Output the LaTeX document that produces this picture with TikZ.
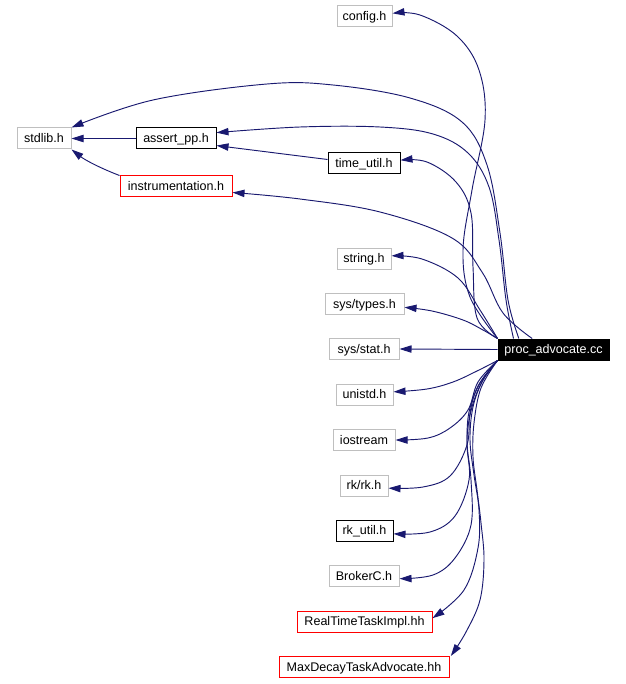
\documentclass[tikz,border=0pt]{standalone}
\usepackage{fontspec}
\setmainfont{Liberation Sans}
\usetikzlibrary{arrows.meta}
\definecolor{edgeblue}{RGB}{25,25,112}
\definecolor{boxgray}{RGB}{191,191,191}
\definecolor{boxred}{RGB}{255,0,0}
\begin{document}
\begin{tikzpicture}[x=0.75pt,y=-0.75pt,
  box/.style={draw, line width=0.75pt, minimum width=#1*0.75pt, minimum height=15.75pt,
    inner sep=0pt, text height=8.2pt, text depth=1.9pt,
    font=\fontsize{9.4pt}{11pt}\selectfont},
  gbox/.style={box=#1, draw=boxgray},
  kbox/.style={box=#1, draw=black},
  rbox/.style={box=#1, draw=boxred},
  edge/.style={draw=edgeblue, line width=0.7pt,
    -{Triangle[length=9pt,width=5.5pt]}, fill=none}]
\useasboundingbox (0,0) rectangle (625,684);
\fill[white] (0,0) rectangle (625,684);

% nodes
\node[gbox=55] (config) at (364.5,16) {config.h};
\node[gbox=54] (stdlib) at (44,138.5) {stdlib.h};
\node[kbox=80] (assert) at (176,138.5) {assert\_pp.h};
\node[rbox=112] (instr) at (176,186.5) {instrumentation.h};
\node[kbox=72] (timeu) at (364,163.5) {time\_util.h};
\node[gbox=54] (string) at (364,258.5) {string.h};
\node[gbox=79] (types) at (364.5,304) {sys/types.h};
\node[gbox=70] (stat) at (364,349) {sys/stat.h};
\node[box=111, draw=black, fill=black, text=white] (proc) at (553.5,349.5) {proc\_advocate.cc};
\node[gbox=57] (unistd) at (364.5,394.5) {unistd.h};
\node[gbox=62] (iostream) at (364,440) {iostream};
\node[gbox=48] (rkrk) at (364,485.5) {rk/rk.h};
\node[kbox=57] (rkutil) at (364.5,530.5) {rk\_util.h};
\node[gbox=70] (broker) at (364,576) {BrokerC.h};
\node[rbox=135] (rtti) at (364.5,621.5) {RealTimeTaskImpl.hh};
\node[rbox=170] (maxd) at (364,667) {MaxDecayTaskAdvocate.hh};

% edges into stdlib / assert_pp
\draw[edge] (assert.west) -- (stdlib.east);
\draw[edge] (instr.north west) .. controls (100,168) and (85,160) .. (stdlib.south east);
\draw[edge] ([yshift=3pt]timeu.west) -- ([yshift=-5.3pt]assert.east);

% edges from proc to upper nodes
\draw[edge] plot[smooth, tension=0.6] coordinates {(proc.north west) (470,297) (463,250) (472,190) (485,120) (479,70) (457,36) (420,15) ([yshift=2pt]config.east)};
\draw[edge] plot[smooth, tension=0.6] coordinates {([xshift=16pt]proc.north west) (508,300) (500,233) (487,165) (462,122) (410,98) (333,85) (267,84) (153,100) (stdlib.north east)};
\draw[edge] plot[smooth, tension=0.6] coordinates {([xshift=12pt]proc.north west) (506,300) (499,240) (489,187) (468,153) (433,134) (380,127) (300,127) ([yshift=4.4pt]assert.east)};
\draw[edge] plot[smooth, tension=0.6] coordinates {([xshift=26pt]proc.north west) (503,313) (482,272) (452,238) (380,212) (300,199) ([yshift=-4.5pt]instr.east)};
\draw[edge] plot[smooth, tension=0.6] coordinates {(proc.north west) (477,318) (473,267) (471,213) (456,182) (427,162) ([yshift=2.5pt]timeu.east)};
\draw[edge] plot[smooth, tension=0.6] coordinates {(proc.north west) (480,310) (458,278) (422,259) ([yshift=2pt]string.east)};
\draw[edge] plot[smooth, tension=0.6] coordinates {(proc.north west) (483,330) (463,320) (432,311) ([yshift=-2.5pt]types.east)};
\draw[edge] (proc.west) -- (stat.east);

% edges from proc to lower nodes
\draw[edge] plot[smooth, tension=0.6] coordinates {(proc.south west) (477,371) (453,382) (427,389) ([yshift=2pt]unistd.east)};
\draw[edge] plot[smooth, tension=0.6] coordinates {(proc.south west) (478,382) (468,410) (450,428) (428,438) (iostream.east)};
\draw[edge] plot[smooth, tension=0.6] coordinates {(proc.south west) (478,386) (470,413) (467,445) (450,476) (423,487) ([yshift=-2pt]rkrk.east)};
\draw[edge] plot[smooth, tension=0.6] coordinates {(proc.south west) (480,383) (469,412) (467,445) (469,480) (455,516) (430,532) ([yshift=-2.5pt]rkutil.east)};
\draw[edge] plot[smooth, tension=0.6] coordinates {(proc.south west) (483,380) (472,407) (467,440) (471,480) (471,525) (455,558) (433,575) ([yshift=-2pt]broker.east)};
\draw[edge] plot[smooth, tension=0.6] coordinates {(proc.south west) (483,380) (473,407) (470,440) (474,475) (479,510) (478,548) (464,590) ([yshift=2.5pt]rtti.east)};
\draw[edge] plot[smooth, tension=0.6] coordinates {(proc.south west) (481,388) (474,423) (473,457) (477,490) (481,523) (484,560) (480,600) (466,632) ([xshift=1pt]maxd.north east)};
\end{tikzpicture}
\end{document}
